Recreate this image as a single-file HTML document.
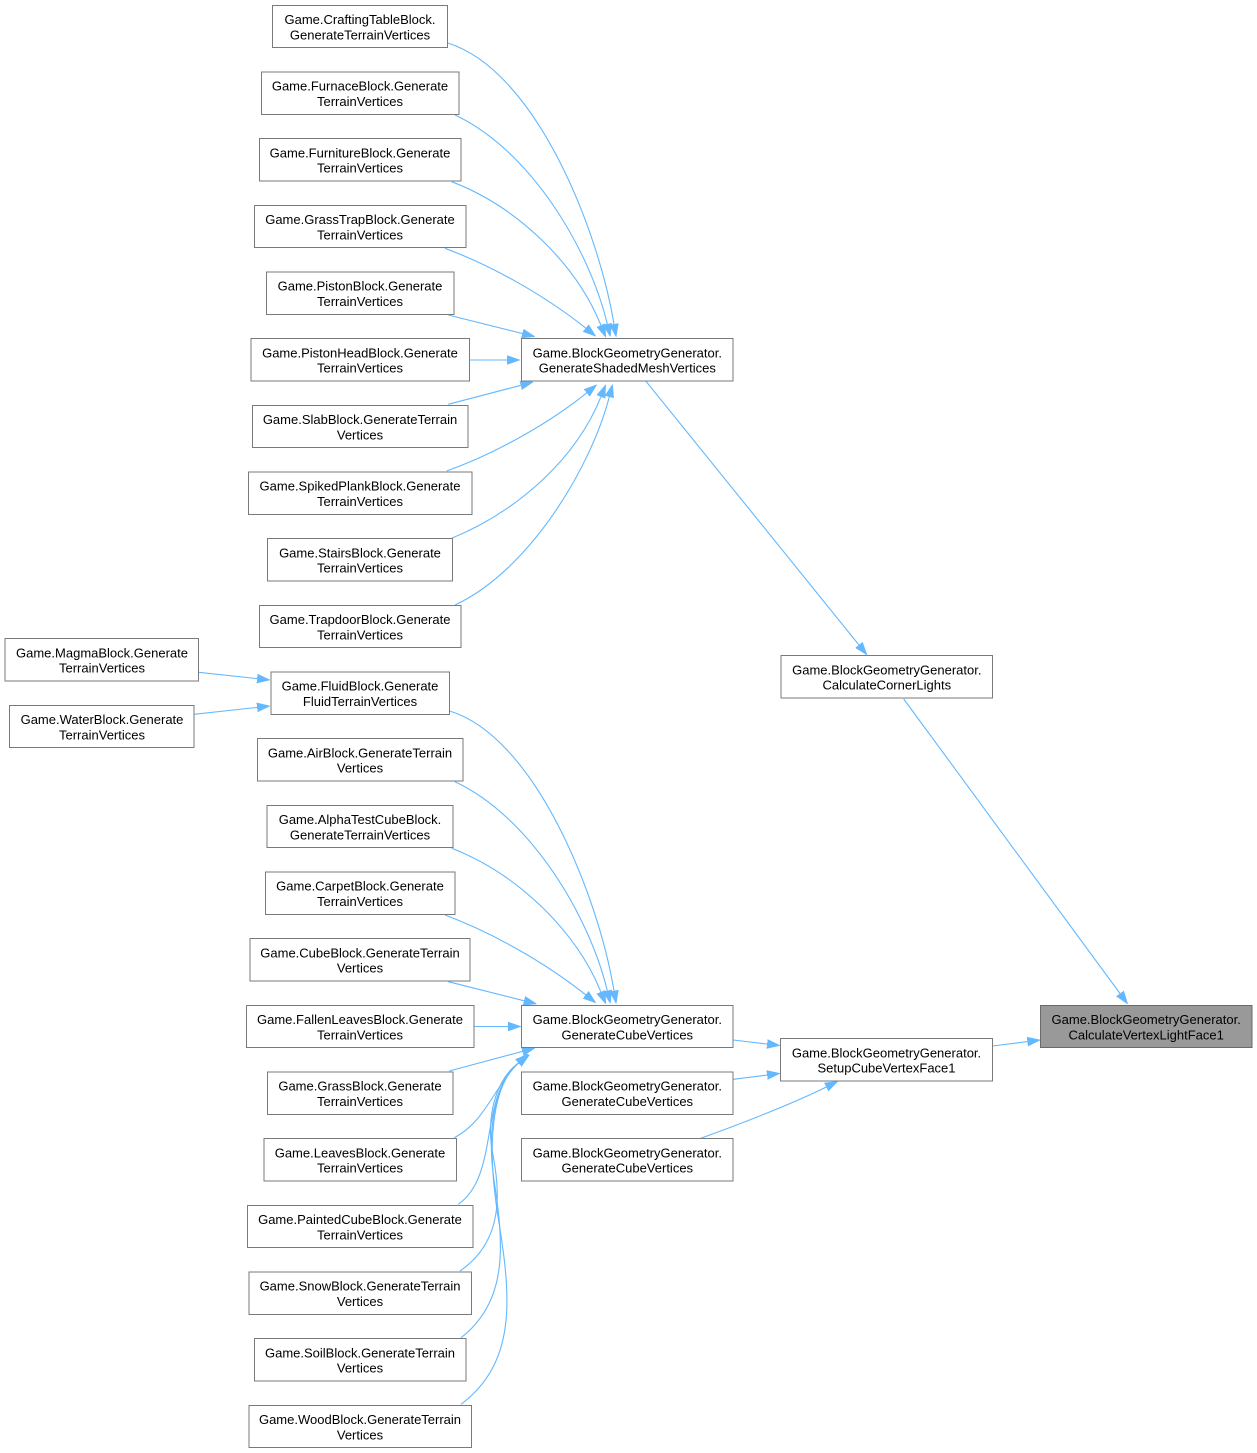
<!DOCTYPE html>
<html>
<head>
<meta charset="utf-8">
<style>
  html, body { margin: 0; padding: 0; background: #ffffff; }
  svg { display: block; }
  .n rect { fill: #ffffff; stroke: #7a7a7a; stroke-width: 1; }
  .n.g rect { fill: #999999; stroke: #6a6a6a; }
  text { font-family: "Liberation Sans", Arial, sans-serif; font-size: 13px; fill: #000000; text-anchor: middle; }
  .e { fill: none; stroke: #63b8ff; stroke-width: 1.1; }
</style>
</head>
<body>
<svg width="1257" height="1453" viewBox="0 0 1257 1453" xmlns="http://www.w3.org/2000/svg">
  <defs>
    <marker id="ah" viewBox="0 0 13 10" refX="0" refY="5" markerUnits="userSpaceOnUse" markerWidth="13" markerHeight="10" orient="auto">
      <path d="M0,0.5 L13,5 L0,9.5 z" fill="#63b8ff" stroke="#63b8ff" stroke-width="0.5"/>
    </marker>
  </defs>

  <!-- Edges -->
  <g>
    <!-- to GenerateShadedMeshVertices -->
    <path class="e" marker-end="url(#ah)" d="M447.7,43 C535,70 598,228 614,324"/>
    <path class="e" marker-end="url(#ah)" d="M455,115 C530,150 589,248 607.3,324"/>
    <path class="e" marker-end="url(#ah)" d="M451.7,181.7 C520,208 577,266 600.9,325.2"/>
    <path class="e" marker-end="url(#ah)" d="M445,248.3 C490,265 543,294 585.7,328.1"/>
    <path class="e" marker-end="url(#ah)" d="M448.3,315 L522.4,333.5"/>
    <path class="e" marker-end="url(#ah)" d="M470,360 L507,360"/>
    <path class="e" marker-end="url(#ah)" d="M448.3,404.3 L520.7,385.3"/>
    <path class="e" marker-end="url(#ah)" d="M446.7,471 C500,452 553,420 586.7,392.9"/>
    <path class="e" marker-end="url(#ah)" d="M451.7,538.3 C520,510 577,457 600.9,396.8"/>
    <path class="e" marker-end="url(#ah)" d="M455,605 C530,570 591,467 609.3,396.9"/>

    <!-- GSMV -> CalculateCornerLights -->
    <path class="e" marker-end="url(#ah)" d="M646,381.3 L858.9,644.9"/>
    <!-- CCL -> CVLF1 -->
    <path class="e" marker-end="url(#ah)" d="M903.7,699 L1120,993.5"/>

    <!-- Magma/Water -> Fluid -->
    <path class="e" marker-end="url(#ah)" d="M198.7,672.3 L257.1,678.6"/>
    <path class="e" marker-end="url(#ah)" d="M194,714.3 L257.1,707.4"/>

    <!-- to GenerateCubeVertices (top) -->
    <path class="e" marker-end="url(#ah)" d="M449.7,711 C535,737 598,895 614,990.7"/>
    <path class="e" marker-end="url(#ah)" d="M455,781.7 C530,816.7 589,915 607.3,990.7"/>
    <path class="e" marker-end="url(#ah)" d="M451.7,848.3 C520,875 577,933 600.9,991.9"/>
    <path class="e" marker-end="url(#ah)" d="M445,915 C490,931.7 543,961 585.7,994.8"/>
    <path class="e" marker-end="url(#ah)" d="M448.3,981.7 L524.1,1000.8"/>
    <path class="e" marker-end="url(#ah)" d="M474.3,1026.5 L508,1026.5"/>
    <path class="e" marker-end="url(#ah)" d="M449.3,1071 L522.4,1051.4"/>

    <!-- to GenerateCubeVertices (bottom, from below) -->
    <path class="e" marker-end="url(#ah)" d="M454.3,1137.7 C485,1122 494,1087 518.5,1063"/>
    <path class="e" marker-end="url(#ah)" d="M458.3,1204.3 C500,1175 478,1097 518.7,1062.8"/>
    <path class="e" marker-end="url(#ah)" d="M460,1271 C505,1240 500,1190 492,1150 C486,1110 499,1077 518.7,1062.8"/>
    <path class="e" marker-end="url(#ah)" d="M461,1337.7 C510,1300 503,1240 494,1180 C486,1125 497,1080 518.7,1062.8"/>
    <path class="e" marker-end="url(#ah)" d="M461,1404.3 C520,1360 510,1290 497,1210 C488,1150 490,1087 518.7,1062.8"/>

    <!-- GCV -> Setup -->
    <path class="e" marker-end="url(#ah)" d="M733.3,1040 L767.1,1044"/>
    <path class="e" marker-end="url(#ah)" d="M733.3,1079.3 L767.1,1075"/>
    <path class="e" marker-end="url(#ah)" d="M700.7,1138.3 C740,1124 788,1106 826.3,1087"/>
    <!-- Setup -> CVLF1 -->
    <path class="e" marker-end="url(#ah)" d="M992.7,1046 L1027.4,1041.6"/>
  </g>

  <!-- Nodes -->
  <g class="n"><rect x="272.5" y="5.5" width="175" height="42"/><text x="360" y="24">Game.CraftingTableBlock.</text><text x="360" y="39.3">GenerateTerrainVertices</text></g>
  <g class="n"><rect x="261.5" y="72" width="197.5" height="42.5"/><text x="360" y="90.7">Game.FurnaceBlock.Generate</text><text x="360" y="106">TerrainVertices</text></g>
  <g class="n"><rect x="259.5" y="138.5" width="201.5" height="42.5"/><text x="360" y="157.3">Game.FurnitureBlock.Generate</text><text x="360" y="172.6">TerrainVertices</text></g>
  <g class="n"><rect x="254.5" y="205.5" width="211.5" height="42"/><text x="360" y="224">Game.GrassTrapBlock.Generate</text><text x="360" y="239.3">TerrainVertices</text></g>
  <g class="n"><rect x="266.5" y="272" width="187.5" height="42.5"/><text x="360" y="290.7">Game.PistonBlock.Generate</text><text x="360" y="306">TerrainVertices</text></g>
  <g class="n"><rect x="251" y="338.5" width="218.5" height="42.5"/><text x="360" y="357.3">Game.PistonHeadBlock.Generate</text><text x="360" y="372.6">TerrainVertices</text></g>
  <g class="n"><rect x="252.5" y="405.5" width="215.5" height="42"/><text x="360" y="424">Game.SlabBlock.GenerateTerrain</text><text x="360" y="439.3">Vertices</text></g>
  <g class="n"><rect x="248.5" y="472" width="223.5" height="42.5"/><text x="360" y="490.7">Game.SpikedPlankBlock.Generate</text><text x="360" y="506">TerrainVertices</text></g>
  <g class="n"><rect x="267.5" y="538.5" width="185" height="42.5"/><text x="360" y="557.3">Game.StairsBlock.Generate</text><text x="360" y="572.6">TerrainVertices</text></g>
  <g class="n"><rect x="259.5" y="605.5" width="201.5" height="42"/><text x="360" y="624">Game.TrapdoorBlock.Generate</text><text x="360" y="639.3">TerrainVertices</text></g>

  <g class="n"><rect x="5" y="638.5" width="193.5" height="42.5"/><text x="102" y="657.3">Game.MagmaBlock.Generate</text><text x="102" y="672.6">TerrainVertices</text></g>
  <g class="n"><rect x="9.5" y="705.5" width="184.5" height="42"/><text x="102" y="724">Game.WaterBlock.Generate</text><text x="102" y="739.3">TerrainVertices</text></g>
  <g class="n"><rect x="271" y="672" width="178.5" height="42.5"/><text x="360" y="690.7">Game.FluidBlock.Generate</text><text x="360" y="706">FluidTerrainVertices</text></g>

  <g class="n"><rect x="257.5" y="738.5" width="205.5" height="42.5"/><text x="360" y="757.3">Game.AirBlock.GenerateTerrain</text><text x="360" y="772.6">Vertices</text></g>
  <g class="n"><rect x="267" y="805.5" width="186" height="42"/><text x="360" y="824">Game.AlphaTestCubeBlock.</text><text x="360" y="839.3">GenerateTerrainVertices</text></g>
  <g class="n"><rect x="265.5" y="872" width="189.5" height="42.5"/><text x="360" y="890.7">Game.CarpetBlock.Generate</text><text x="360" y="906">TerrainVertices</text></g>
  <g class="n"><rect x="250" y="938.5" width="220" height="42.5"/><text x="360" y="957.3">Game.CubeBlock.GenerateTerrain</text><text x="360" y="972.6">Vertices</text></g>
  <g class="n"><rect x="246.5" y="1005.5" width="227.5" height="42"/><text x="360" y="1024">Game.FallenLeavesBlock.Generate</text><text x="360" y="1039.3">TerrainVertices</text></g>
  <g class="n"><rect x="267.5" y="1072" width="185.5" height="42.5"/><text x="360" y="1090.7">Game.GrassBlock.Generate</text><text x="360" y="1106">TerrainVertices</text></g>
  <g class="n"><rect x="264" y="1138.5" width="192.5" height="42.5"/><text x="360" y="1157.3">Game.LeavesBlock.Generate</text><text x="360" y="1172.6">TerrainVertices</text></g>
  <g class="n"><rect x="247.5" y="1205.5" width="225.5" height="42"/><text x="360" y="1224">Game.PaintedCubeBlock.Generate</text><text x="360" y="1239.3">TerrainVertices</text></g>
  <g class="n"><rect x="249" y="1272" width="222.5" height="42.5"/><text x="360" y="1290.7">Game.SnowBlock.GenerateTerrain</text><text x="360" y="1306">Vertices</text></g>
  <g class="n"><rect x="254.5" y="1338.5" width="211.5" height="42.5"/><text x="360" y="1357.3">Game.SoilBlock.GenerateTerrain</text><text x="360" y="1372.6">Vertices</text></g>
  <g class="n"><rect x="249" y="1405.5" width="222.5" height="42"/><text x="360" y="1424">Game.WoodBlock.GenerateTerrain</text><text x="360" y="1439.3">Vertices</text></g>

  <g class="n"><rect x="521.5" y="338.5" width="211.5" height="42.5"/><text x="627.3" y="357.3">Game.BlockGeometryGenerator.</text><text x="627.3" y="372.6">GenerateShadedMeshVertices</text></g>
  <g class="n"><rect x="521.5" y="1005.5" width="211.5" height="42"/><text x="627.3" y="1024">Game.BlockGeometryGenerator.</text><text x="627.3" y="1039.3">GenerateCubeVertices</text></g>
  <g class="n"><rect x="521.5" y="1072" width="211.5" height="42.5"/><text x="627.3" y="1090.7">Game.BlockGeometryGenerator.</text><text x="627.3" y="1106">GenerateCubeVertices</text></g>
  <g class="n"><rect x="521.5" y="1138.5" width="211.5" height="42.5"/><text x="627.3" y="1157.3">Game.BlockGeometryGenerator.</text><text x="627.3" y="1172.6">GenerateCubeVertices</text></g>

  <g class="n"><rect x="781" y="655.5" width="211.5" height="42.5"/><text x="886.8" y="674.3">Game.BlockGeometryGenerator.</text><text x="886.8" y="689.6">CalculateCornerLights</text></g>
  <g class="n"><rect x="780.5" y="1038.5" width="212" height="42.5"/><text x="886.5" y="1057.3">Game.BlockGeometryGenerator.</text><text x="886.5" y="1072.6">SetupCubeVertexFace1</text></g>
  <g class="n g"><rect x="1040.5" y="1005.5" width="211.5" height="42"/><text x="1146.2" y="1024">Game.BlockGeometryGenerator.</text><text x="1146.2" y="1039.3">CalculateVertexLightFace1</text></g>
</svg>
</body>
</html>
